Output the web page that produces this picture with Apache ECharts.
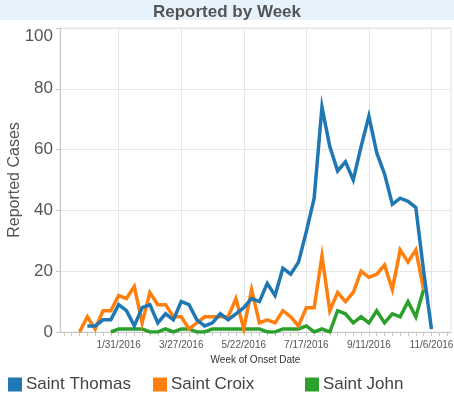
<!DOCTYPE html>
<html>
<head>
<meta charset="utf-8">
<script src="https://cdn.jsdelivr.net/npm/echarts@6/dist/echarts.min.js"></script>
<style>html,body{margin:0;padding:0;background:#fff}#c{width:454px;height:398px}</style>
</head>
<body>
<div id="c"></div>
<script>
const weeks = ['12/13/2015','12/20/2015','12/27/2015','1/3/2016','1/10/2016','1/17/2016','1/24/2016','1/31/2016','2/7/2016','2/14/2016','2/21/2016','2/28/2016','3/6/2016','3/13/2016','3/20/2016','3/27/2016','4/3/2016','4/10/2016','4/17/2016','4/24/2016','5/1/2016','5/8/2016','5/15/2016','5/22/2016','5/29/2016','6/5/2016','6/12/2016','6/19/2016','6/26/2016','7/3/2016','7/10/2016','7/17/2016','7/24/2016','7/31/2016','8/7/2016','8/14/2016','8/21/2016','8/28/2016','9/4/2016','9/11/2016','9/18/2016','9/25/2016','10/2/2016','10/9/2016','10/16/2016','10/23/2016','10/30/2016','11/6/2016','11/13/2016','11/20/2016'];
const tickLabels = ['1/31/2016','3/27/2016','5/22/2016','7/17/2016','9/11/2016','11/6/2016'];
const yTicks = [0,20,40,60,80,100];
const saintThomas = [null,null,null,2,2,4,4,9,7,2,8,9,3,6,4,10,9,4,2,3,6,4,6,8,11,10,16,12,21,19,23,33,44,74,61,53,56,50,61,71,59,52,42,44,43,41,20,1,null,null];
const saintCroix = [null,null,0,5,1,7,7,12,11,15,3,13,9,9,5,5,1,3,5,5,5,5,11,1,14,3,4,3,7,5,2,8,8,25,7,13,10,13,20,18,19,22,14,27,23,27,14,null,null,null];
const saintJohn = [null,null,null,null,null,null,0,1,1,1,1,0,0,1,0,1,1,0,0,1,1,1,1,1,1,1,0,0,1,1,1,2,0,1,0,7,6,3,5,3,7,3,6,5,10,5,14,null,null,null];
const seriesNames = ['Saint Thomas','Saint Croix','Saint John'];
const colors = ['#1f77b4','#ff7f0e','#2ca02c'];

const chart = echarts.init(document.getElementById('c'), null, {renderer:'canvas'});
const FONT = 'Liberation Sans, Arial, sans-serif';
const legendLefts = [3,148,300];
chart.setOption({
  animation:false,
  graphic:[{type:'rect', left:0, top:0, shape:{width:454, height:20}, style:{fill:'#e7f3fc'}, z:-1}],
  title:{text:'Reported by Week', left:'center', top:-1, textStyle:{fontFamily:FONT, fontSize:17, fontWeight:'bold', color:'#555'}},
  legend: seriesNames.map((n,i)=>({data:[n], left:legendLefts[i], top:371, icon:'rect', itemWidth:14, itemHeight:14, itemGap:4, selectedMode:false,
    textStyle:{fontFamily:FONT, fontSize:17, color:'#444', padding:[0,0,0,-1]}})),
  grid:{left:60, right:3, top:28, bottom:66, show:true, borderColor:'#e3e3e3', borderWidth:1, containLabel:false, outerBoundsMode:'none'},
  xAxis:{type:'category', data:weeks, boundaryGap:true,
    name:'Week of Onset Date', nameLocation:'middle', nameGap:23, nameMoveOverlap:false,
    nameTextStyle:{fontFamily:FONT, fontSize:10, color:'#333'},
    axisLine:{lineStyle:{color:'#c8c8c8'}},
    axisTick:{show:true, interval:0, alignWithLabel:true, length:4, lineStyle:{color:'#c8c8c8'}},
    axisLabel:{interval:(i,v)=>tickLabels.indexOf(v)>=0, fontFamily:FONT, fontSize:10, color:'#555', margin:8, hideOverlap:false},
    splitLine:{show:true, alignWithLabel:true, interval:(i,v)=>tickLabels.indexOf(v)>=0, lineStyle:{color:'#e6e6e6'}}
  },
  yAxis:{type:'value', min:yTicks[0], max:yTicks[yTicks.length-1], interval:20,
    name:'Reported Cases', nameLocation:'middle', nameGap:37, nameRotate:90, nameMoveOverlap:false,
    nameTextStyle:{fontFamily:FONT, fontSize:16, color:'#555'},
    axisLine:{show:true, lineStyle:{color:'#c8c8c8'}},
    axisTick:{show:true, length:4, lineStyle:{color:'#c8c8c8'}},
    axisLabel:{fontFamily:FONT, fontSize:17, color:'#555', margin:7,
      formatter:v=> v===100 ? '{t|100}' : String(v),
      rich:{t:{fontFamily:FONT, fontSize:17, color:'#555', padding:[16,0,0,0]}}},
    splitLine:{show:true, lineStyle:{color:'#e6e6e6'}}
  },
  series:[saintThomas, saintCroix, saintJohn].map((d,i)=>({
    name:seriesNames[i], type:'line', data:d, symbol:'none', connectNulls:false,
    z: 5-i, lineStyle:{width:3.5, color:colors[i], join:'miter'}, itemStyle:{color:colors[i]}
  }))
});
</script>
</body>
</html>
